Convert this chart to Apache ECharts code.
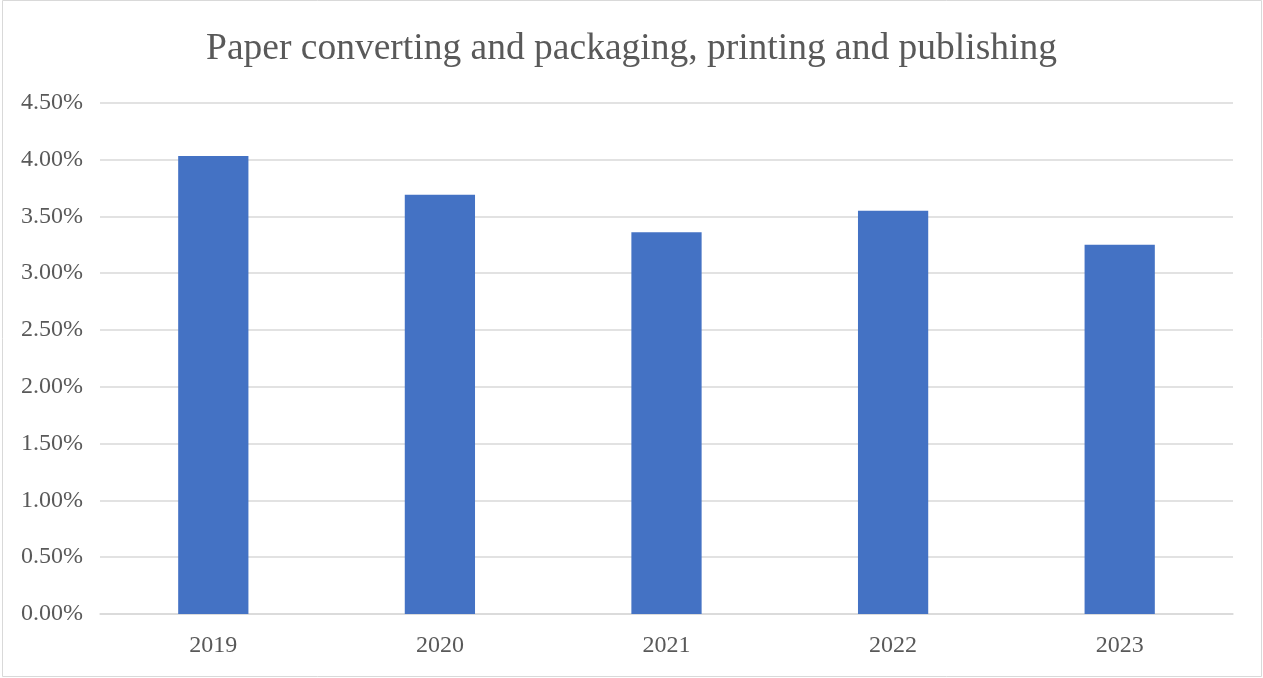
<!DOCTYPE html>
<html>
<head>
<meta charset="utf-8">
<script src="https://cdn.jsdelivr.net/npm/echarts@6/dist/echarts.min.js"></script>
<style>
  html, body { margin: 0; padding: 0; background: #ffffff; }
  #chart { width: 1263px; height: 678px; }
</style>
</head>
<body>
<div id="chart"></div>
<script>
// Share per year, in percent
const years = ['2019', '2020', '2021', '2022', '2023'];
const shares = [4.03, 3.69, 3.36, 3.55, 3.25];
const chartTitle = 'Paper converting and packaging, printing and publishing';

const textColor = '#595959';
const serif = '"Liberation Serif", "Times New Roman", serif';

const chart = echarts.init(document.getElementById('chart'));
chart.setOption({
  backgroundColor: '#ffffff',
  animation: false,
  title: {
    text: chartTitle,
    left: 'center',
    top: 25,
    textStyle: { fontFamily: serif, fontSize: 37.5, fontWeight: 'normal', color: textColor }
  },
  grid: { left: 100, right: 30, top: 102.7, bottom: 64, containLabel: false },
  xAxis: {
    type: 'category',
    data: years,
    axisLine: { lineStyle: { color: '#d9d9d9', width: 1.5 } },
    axisTick: { show: false },
    axisLabel: { fontFamily: serif, fontSize: 24, color: textColor, margin: 20 }
  },
  yAxis: {
    type: 'value',
    min: 0,
    max: 4.5,
    interval: 0.5,
    axisLine: { show: false },
    axisTick: { show: false },
    splitLine: { lineStyle: { color: '#d9d9d9', width: 1.5 } },
    axisLabel: {
      fontFamily: serif, fontSize: 24, color: textColor, margin: 17,
      formatter: v => v.toFixed(2) + '%'
    }
  },
  series: [{
    type: 'bar',
    data: shares,
    barWidth: '31%',
    itemStyle: { color: '#4472C4' }
  }],
  graphic: [{
    type: 'rect',
    shape: { x: 2.5, y: 0.5, width: 1259, height: 676 },
    style: { fill: 'none', stroke: '#d9d9d9', lineWidth: 1 },
    silent: true
  }]
});
</script>
</body>
</html>
